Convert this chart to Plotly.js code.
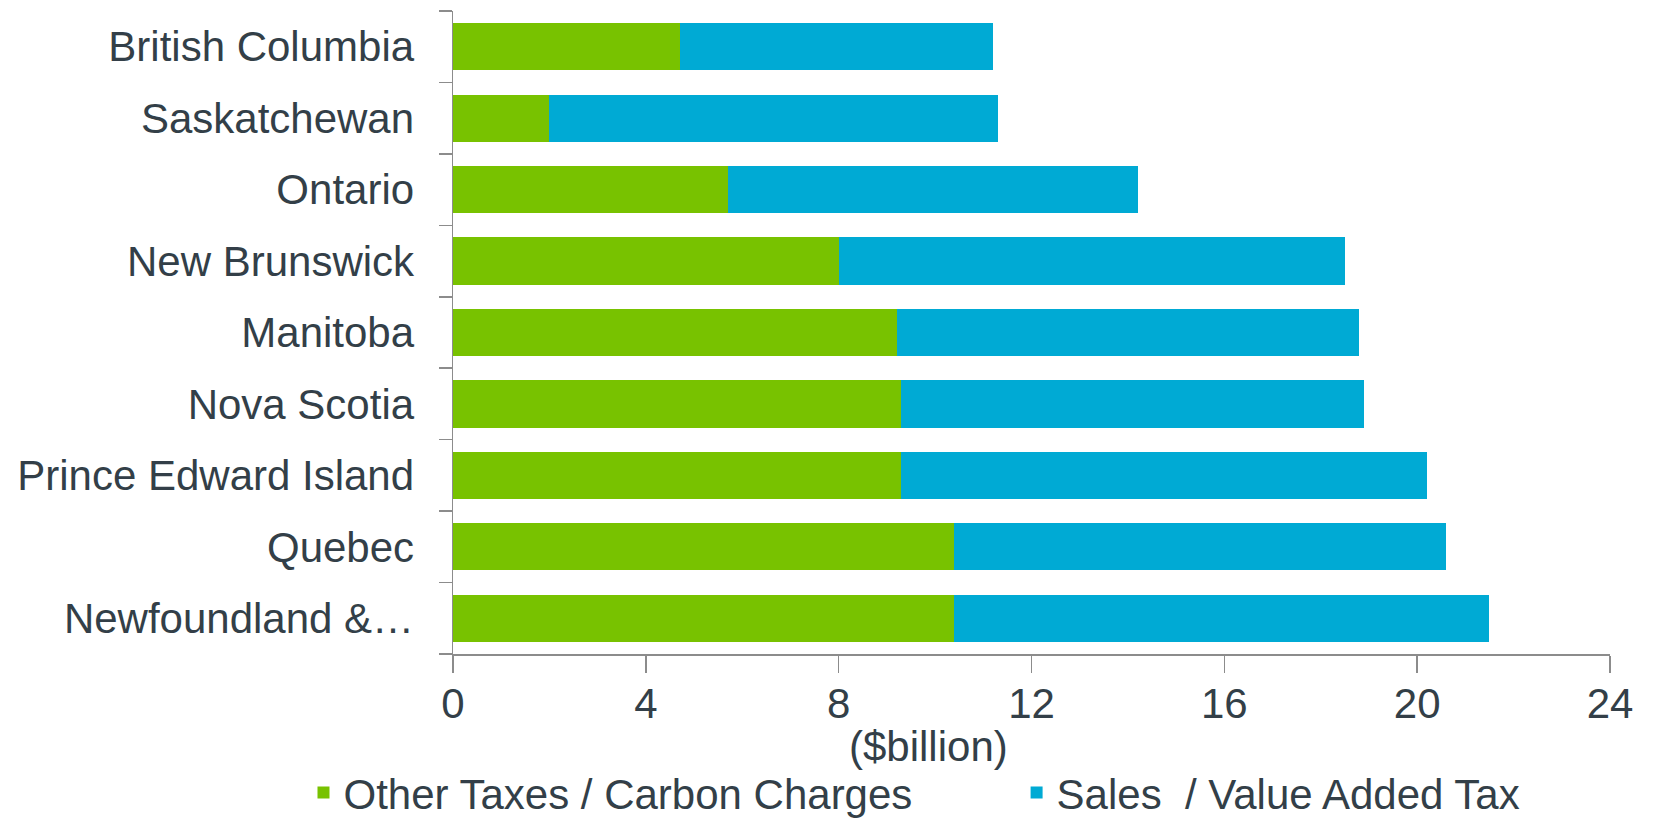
<!DOCTYPE html>
<html>
<head>
<meta charset="utf-8">
<script src="https://cdn.plot.ly/plotly-3.0.1.min.js"></script>
<style>html,body{margin:0;padding:0;background:#fff;}#chart{width:1653px;height:818px;}</style>
</head>
<body>
<div id="chart"></div>
<script>
const provinces = ["British Columbia","Saskatchewan","Ontario","New Brunswick","Manitoba","Nova Scotia","Prince Edward Island","Quebec","Newfoundland & Labrador"];
const provinceLabels = ["British Columbia","Saskatchewan","Ontario","New Brunswick","Manitoba","Nova Scotia","Prince Edward Island","Quebec","Newfoundland &…"];
const otherTaxes = [4.7, 2.0, 5.7, 8.0, 9.2, 9.3, 9.3, 10.4, 10.4];
const salesTax = [6.5, 9.3, 8.5, 10.5, 9.6, 9.6, 10.9, 10.2, 11.1];
const seriesNames = ["Other Taxes / Carbon Charges", "Sales  / Value Added Tax"];
const xTicks = [0, 4, 8, 12, 16, 20, 24];
const xTitle = "($billion)";

const textColor = "#333F48";
const axisColor = "#8C8C8C";
const fontSize = 42;

const traces = [
  {type:"bar", orientation:"h", name:seriesNames[0], y:provinces, x:otherTaxes,
   marker:{color:"#78C200"}, legend:"legend"},
  {type:"bar", orientation:"h", name:seriesNames[1], y:provinces, x:salesTax,
   marker:{color:"#00AAD4"}, legend:"legend2"}
];

const legendBase = {orientation:"h", xref:"container", yref:"container", xanchor:"left", y:0.031, yanchor:"middle",
                    font:{size:fontSize, color:textColor}, bgcolor:"rgba(0,0,0,0)"};

const layout = {
  width:1653, height:818,
  barmode:"stack", bargap:0.34,
  paper_bgcolor:"#fff", plot_bgcolor:"#fff",
  font:{family:"Liberation Sans, Arial, sans-serif", size:fontSize, color:textColor},
  margin:{l:453, r:43, t:11, b:164, pad:0},
  showlegend:true,
  legend:Object.assign({}, legendBase, {x:0.1836}),
  legend2:Object.assign({}, legendBase, {x:0.615}),
  xaxis:{range:[0,24], tickvals:xTicks, ticktext:xTicks.map(String), showgrid:false, zeroline:false,
         showline:true, linecolor:axisColor, linewidth:1.5, ticks:"outside", ticklen:17, tickwidth:1.5, tickcolor:axisColor,
         tickfont:{size:fontSize, color:textColor}, ticklabelstandoff:-5},
  yaxis:{type:"category", autorange:"reversed", categoryorder:"array", categoryarray:provinces,
         tickvals:provinces, ticktext:provinceLabels, tickson:"boundaries",
         showgrid:false, zeroline:false, showline:true, linecolor:axisColor, linewidth:1.5,
         ticks:"outside", ticklen:13, tickwidth:1.5, tickcolor:axisColor,
         ticklabelstandoff:29, tickfont:{size:fontSize, color:textColor}},
  annotations:[{text:xTitle, xref:"paper", yref:"paper", x:0.411, y:-0.1437,
                xanchor:"center", yanchor:"middle", showarrow:false, font:{size:fontSize, color:textColor}}]
};

Plotly.newPlot("chart", traces, layout, {displayModeBar:false, staticPlot:true});
</script>
</body>
</html>
